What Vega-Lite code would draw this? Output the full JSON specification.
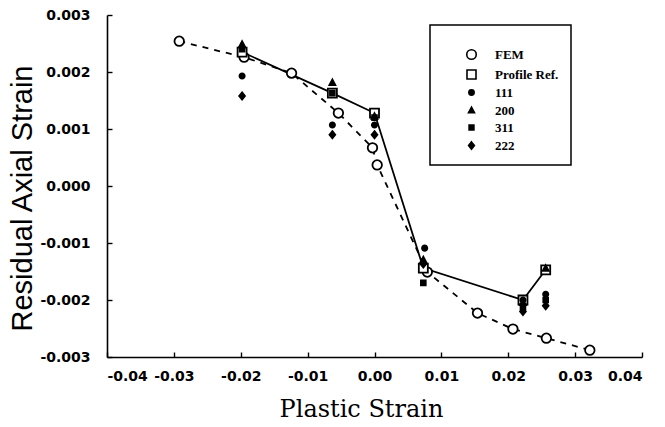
{
  "$schema": "https://vega.github.io/schema/vega-lite/v6.json",
  "width": 535,
  "height": 342,
  "autosize": {"type": "none"},
  "padding": {"left": 107, "top": 15, "right": 23, "bottom": 70},
  "background": "white",
  "config": {
    "view": {"stroke": null},
    "axis": {
      "grid": false,
      "domainColor": "black",
      "domainWidth": 1.6,
      "tickColor": "black",
      "tickSize": -5,
      "tickWidth": 1.4,
      "labelFont": "DejaVu Sans",
      "labelFontWeight": "bold",
      "labelFontSize": 14,
      "labelColor": "black",
      "titleColor": "black"
    },
    "legend": {
      "orient": "none",
      "legendX": 323,
      "legendY": 10,
      "strokeColor": "black",
      "strokeWidth": 1.5,
      "padding": 12,
      "labelFont": "Liberation Serif",
      "labelFontWeight": "bold",
      "labelFontSize": 13,
      "labelColor": "black",
      "rowPadding": 3,
      "symbolSize": 100,
      "symbolStrokeWidth": 1.6,
      "symbolOffset": 23,
      "labelOffset": 17,
      "titleFontSize": 11,
      "titlePadding": 0
    }
  },
  "data": {
    "values": [
      {"series": "FEM", "x": -0.0292, "y": 0.00254},
      {"series": "FEM", "x": -0.0195, "y": 0.00226},
      {"series": "FEM", "x": -0.0124, "y": 0.00198},
      {"series": "FEM", "x": -0.0054, "y": 0.00128},
      {"series": "FEM", "x": -0.0003, "y": 0.00067},
      {"series": "FEM", "x": 0.0004, "y": 0.00037},
      {"series": "FEM", "x": 0.0079, "y": -0.00151},
      {"series": "FEM", "x": 0.0154, "y": -0.00223},
      {"series": "FEM", "x": 0.0207, "y": -0.00251},
      {"series": "FEM", "x": 0.0257, "y": -0.00267},
      {"series": "FEM", "x": 0.0322, "y": -0.00288},
      {"series": "Profile Ref.", "x": -0.0198, "y": 0.00235},
      {"series": "Profile Ref.", "x": -0.0063, "y": 0.00163},
      {"series": "Profile Ref.", "x": 0.0, "y": 0.00128},
      {"series": "Profile Ref.", "x": 0.0073, "y": -0.00144},
      {"series": "Profile Ref.", "x": 0.0222, "y": -0.002},
      {"series": "Profile Ref.", "x": 0.0256, "y": -0.00147},
      {"series": "111", "x": -0.0198, "y": 0.00193},
      {"series": "111", "x": -0.0063, "y": 0.00107},
      {"series": "111", "x": 0.0, "y": 0.00107},
      {"series": "111", "x": 0.0075, "y": -0.00109},
      {"series": "111", "x": 0.0222, "y": -0.002},
      {"series": "111", "x": 0.0256, "y": -0.0019},
      {"series": "200", "x": -0.0198, "y": 0.00248},
      {"series": "200", "x": -0.0063, "y": 0.00181},
      {"series": "200", "x": 0.0, "y": 0.00122},
      {"series": "200", "x": 0.0073, "y": -0.0013},
      {"series": "200", "x": 0.0222, "y": -0.00205},
      {"series": "200", "x": 0.0256, "y": -0.00145},
      {"series": "311", "x": -0.0198, "y": 0.0024},
      {"series": "311", "x": -0.0063, "y": 0.00163},
      {"series": "311", "x": 0.0, "y": 0.0012},
      {"series": "311", "x": 0.0073, "y": -0.0017},
      {"series": "311", "x": 0.0222, "y": -0.00212},
      {"series": "311", "x": 0.0256, "y": -0.002},
      {"series": "222", "x": -0.0198, "y": 0.00158},
      {"series": "222", "x": -0.0063, "y": 0.0009},
      {"series": "222", "x": 0.0, "y": 0.0009},
      {"series": "222", "x": 0.0073, "y": -0.00137},
      {"series": "222", "x": 0.0222, "y": -0.0022},
      {"series": "222", "x": 0.0256, "y": -0.0021}
    ]
  },
  "encoding": {
    "x": {
      "field": "x", "type": "quantitative",
      "scale": {"domain": [-0.04, 0.04], "nice": false},
      "axis": {
        "values": [-0.04, -0.03, -0.02, -0.01, 0, 0.01, 0.02, 0.03, 0.04],
        "format": ".2f",
        "labelExpr": "replace(datum.label, '\u2212', '-')",
        "labelPadding": 17,
        "title": "Plastic Strain",
        "titleFont": "DejaVu Serif",
        "titleFontSize": 24,
        "titleFontWeight": "normal",
        "titleX": 254,
        "titleY": 40
      }
    },
    "y": {
      "field": "y", "type": "quantitative",
      "scale": {"domain": [-0.003, 0.003], "nice": false},
      "axis": {
        "values": [-0.003, -0.002, -0.001, 0, 0.001, 0.002, 0.003],
        "format": ".3f",
        "labelExpr": "replace(datum.label, '\u2212', '-')",
        "labelPadding": 22,
        "title": "Residual Axial Strain",
        "titleFont": "Liberation Sans",
        "titleFontSize": 29,
        "titleFontWeight": "normal",
        "titleX": -70,
        "titleY": 183
      }
    }
  },
  "layer": [
    {
      "transform": [{"filter": "datum.series === 'FEM'"}],
      "mark": {"type": "line", "color": "black", "strokeWidth": 1.8, "strokeDash": [6, 6]},
      "encoding": {"order": {"field": "x"}}
    },
    {
      "transform": [{"filter": "datum.series === 'Profile Ref.'"}],
      "mark": {"type": "line", "color": "black", "strokeWidth": 1.8},
      "encoding": {"order": {"field": "x"}}
    },
    {
      "mark": {"type": "point", "filled": true, "strokeWidth": 1.8, "opacity": 1, "size": 100},
      "encoding": {
        "shape": {
          "field": "series", "type": "nominal",
          "scale": {"domain": ["FEM", "Profile Ref.", "111", "200", "311", "222"],
                    "range": [
                      "M-0.95,0A0.95,0.95 0 1,0 0.95,0A0.95,0.95 0 1,0 -0.95,0Z",
                      "M-0.9,-0.9H0.9V0.9H-0.9Z",
                      "M-0.53,0A0.53,0.53 0 1,0 0.53,0A0.53,0.53 0 1,0 -0.53,0Z",
                      "M0,-0.68L0.6,0.46L-0.6,0.46Z",
                      "M-0.48,-0.48H0.48V0.48H-0.48Z",
                      "M0,-0.72L0.58,0L0,0.72L-0.58,0Z"
                    ]},
          "legend": {"title": " "}
        },
        "fill": {
          "field": "series", "type": "nominal",
          "scale": {"domain": ["FEM", "Profile Ref.", "111", "200", "311", "222"],
                    "range": ["white", "white", "black", "black", "black", "black"]},
          "legend": {"title": " "}
        },
        "stroke": {
          "field": "series", "type": "nominal",
          "scale": {"domain": ["FEM", "Profile Ref.", "111", "200", "311", "222"],
                    "range": ["black", "black", "black", "black", "black", "black"]},
          "legend": {"title": " "}
        }
      }
    }
  ]
}
